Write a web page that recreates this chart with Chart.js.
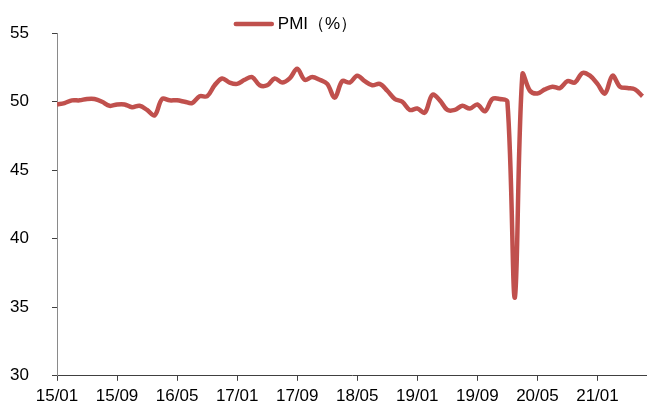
<!DOCTYPE html>
<html>
<head>
<meta charset="utf-8">
<script src="https://cdn.jsdelivr.net/npm/chart.js@4"></script>
<style>
  html, body { margin: 0; padding: 0; background: #fff; }
  #wrap { width: 647px; height: 409px; }
</style>
</head>
<body>
<div id="wrap"><canvas id="pmi-chart"></canvas></div>
<script>
// monthly manufacturing PMI, 2015/01 .. 2021/07
const pmi = [
    49.8, 49.9, 50.1, 50.1, 50.2, 50.2, 50.0, 49.7, 49.8, 49.8, 49.6, 49.7, // 2015
    49.4, 49.0, 50.2, 50.1, 50.1, 50.0, 49.9, 50.4, 50.4, 51.2, 51.7, 51.4, // 2016
    51.3, 51.6, 51.8, 51.2, 51.2, 51.7, 51.4, 51.7, 52.4, 51.6, 51.8, 51.6, // 2017
    51.3, 50.3, 51.5, 51.4, 51.9, 51.5, 51.2, 51.3, 50.8, 50.2, 50.0, 49.4, // 2018
    49.5, 49.2, 50.5, 50.1, 49.4, 49.4, 49.7, 49.5, 49.8, 49.3, 50.2, 50.2, // 2019
    50.0, 35.7, 52.0, 50.8, 50.6, 50.9, 51.1, 51.0, 51.5, 51.4, 52.1, 51.9, // 2020
    51.3, 50.6, 51.9, 51.1, 51.0, 50.9, 50.4                                // 2021
];
const tickLabels = ["15/01", "15/09", "16/05", "17/01", "17/09", "18/05", "19/01", "19/09", "20/05", "21/01"];
const tickStep = 8; // months between labels

const points = pmi.map((v, i) => ({ x: i, y: v }));
const red = "#C0504D";
const fontFamily = "Liberation Sans, Arial, sans-serif";
const font = { family: fontFamily, size: 17 };

// legend drawn by hand so it can sit a bit left of centre like the original
const legendPlugin = {
    id: "pmiLegend",
    afterDraw(chart) {
        const ctx = chart.ctx;
        const label = chart.data.datasets[0].label;
        ctx.save();
        ctx.font = `17px ${fontFamily}`;
        const textW = ctx.measureText(label).width;
        const lineW = 40, gap = 4;
        const cx = chart.width / 2 - 28;
        const x0 = cx - (lineW + gap + textW) / 2;
        const y = 24;
        ctx.strokeStyle = red;
        ctx.lineWidth = 4.5;
        ctx.lineCap = "round";
        ctx.beginPath();
        ctx.moveTo(x0 + 2, y);
        ctx.lineTo(x0 + lineW - 2, y);
        ctx.stroke();
        ctx.fillStyle = "#000";
        ctx.textBaseline = "middle";
        ctx.fillText(label, x0 + lineW + gap, y);
        ctx.restore();
    }
};

new Chart(document.getElementById("pmi-chart"), {
    type: "line",
    data: {
        datasets: [{
            label: "PMI（%）",
            data: points,
            borderColor: red,
            backgroundColor: red,
            borderWidth: 4.5,
            pointRadius: 0,
            tension: 0.35
        }]
    },
    options: {
        responsive: true,
        maintainAspectRatio: false,
        animation: false,
        layout: { padding: { left: 10, right: 0, top: 32.8, bottom: 0 } },
        plugins: {
            tooltip: { enabled: false },
            legend: { display: false }
        },
        scales: {
            x: {
                type: "linear",
                min: 0,
                max: 78.6,
                afterBuildTicks: (scale) => {
                    scale.ticks = tickLabels.map((_, i) => ({ value: i * tickStep }));
                },
                afterFit: (scale) => { scale.height = 28.8; },
                ticks: {
                    color: "#000",
                    font: font,
                    maxRotation: 0,
                    autoSkip: false,
                    padding: 5,
                    callback: (v) => tickLabels[v / tickStep]
                },
                grid: { drawOnChartArea: false, drawTicks: true, tickLength: 5, color: "#404040" },
                border: { color: "#404040", width: 1 }
            },
            y: {
                min: 30,
                max: 55,
                afterFit: (scale) => { scale.width = 47; },
                ticks: { stepSize: 5, color: "#000", font: font, padding: 23 },
                grid: { drawOnChartArea: false, drawTicks: true, tickLength: 5, color: "#404040" },
                border: { color: "#8a8a8a", width: 1 }
            }
        }
    },
    plugins: [legendPlugin]
});
</script>
</body>
</html>
